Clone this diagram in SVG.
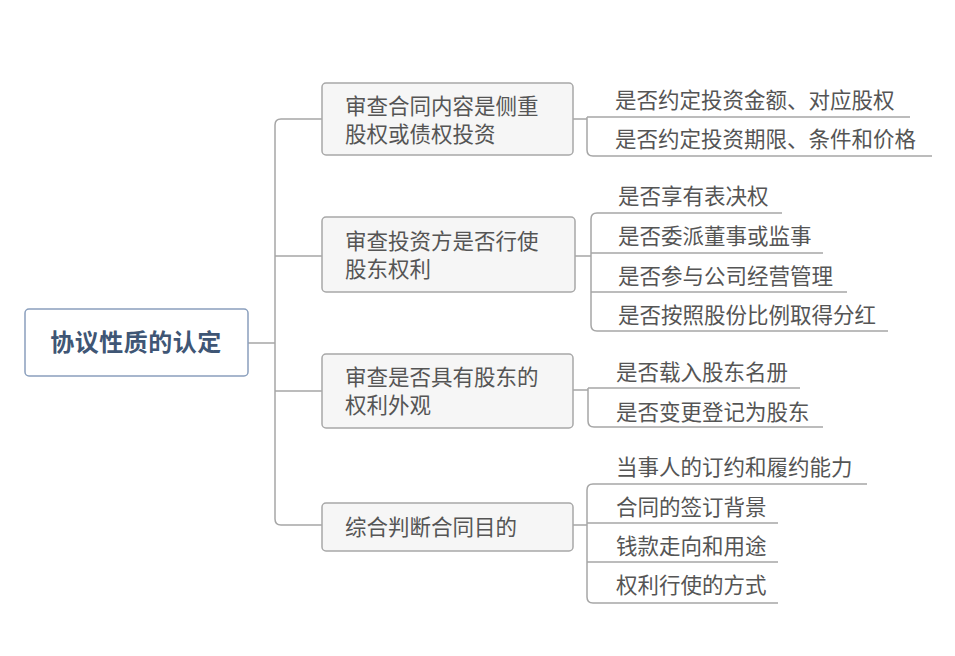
<svg xmlns="http://www.w3.org/2000/svg" width="955" height="656" viewBox="0 0 955 656">
<style>
.bg{fill:#ffffff}
.root{fill:#ffffff;stroke:#8a9fbd;stroke-width:1.5}
.rt{font-family:"Noto Sans CJK SC","Noto Sans",sans-serif;font-size:24px;font-weight:bold;fill:#3f5675;letter-spacing:0.5px}
.box{fill:#f6f6f6;stroke:#a8a8a8;stroke-width:1.5}
.t{font-family:"Noto Sans CJK SC","Noto Sans",sans-serif;font-size:21.5px;fill:#555555}
.ln{fill:none;stroke:#a6a6a6;stroke-width:1.5}
</style>
<rect class="bg" x="0" y="0" width="955" height="656"/>
<g id="connectors">
<path class="ln" d="M248,343 H275"/>
<path class="ln" d="M322,119 H281 Q275,119 275,125 V519 Q275,525 281,525 H322"/>
<path class="ln" d="M275,256 H322"/>
<path class="ln" d="M275,391 H322"/>
<path class="ln" d="M573,119 H587"/>
<path class="ln" d="M587,117 H910"/>
<path class="ln" d="M587,117 V150 Q587,156 593,156 H932"/>
<path class="ln" d="M575,256 H591"/>
<path class="ln" d="M782,213 H597 Q591,213 591,219 V325 Q591,331 597,331 H888"/>
<path class="ln" d="M591,253 H823"/>
<path class="ln" d="M591,292 H847"/>
<path class="ln" d="M573,390 H588"/>
<path class="ln" d="M588,388 H800"/>
<path class="ln" d="M588,388 V421 Q588,427 594,427 H823"/>
<path class="ln" d="M573,525 H587"/>
<path class="ln" d="M867,484 H593 Q587,484 587,490 V597 Q587,603 593,603 H778"/>
<path class="ln" d="M587,523 H778"/>
<path class="ln" d="M587,562 H778"/>
</g>
<g id="root">
<rect class="root" x="25" y="309" width="223" height="67" rx="4"/>
<text class="rt" x="136" y="351" text-anchor="middle">协议性质的认定</text>
</g>
<g id="b1">
<rect class="box" x="322" y="83" width="251" height="72" rx="4"/>
<text class="t" x="345" y="114">审查合同内容是侧重</text>
<text class="t" x="345" y="142">股权或债权投资</text>
</g>
<g id="b2">
<rect class="box" x="322" y="217" width="253" height="75" rx="4"/>
<text class="t" x="345" y="249">审查投资方是否行使</text>
<text class="t" x="345" y="277">股东权利</text>
</g>
<g id="b3">
<rect class="box" x="322" y="354" width="251" height="74" rx="4"/>
<text class="t" x="345" y="385">审查是否具有股东的</text>
<text class="t" x="345" y="413">权利外观</text>
</g>
<g id="b4">
<rect class="box" x="322" y="503" width="251" height="48" rx="4"/>
<text class="t" x="345" y="535">综合判断合同目的</text>
</g>
<g id="l1a"><text class="t" x="615" y="108">是否约定投资金额、对应股权</text></g>
<g id="l1b"><text class="t" x="615" y="147">是否约定投资期限、条件和价格</text></g>
<g id="l2a"><text class="t" x="618" y="204">是否享有表决权</text></g>
<g id="l2b"><text class="t" x="618" y="244">是否委派董事或监事</text></g>
<g id="l2c"><text class="t" x="618" y="284">是否参与公司经营管理</text></g>
<g id="l2d"><text class="t" x="618" y="323">是否按照股份比例取得分红</text></g>
<g id="l3a"><text class="t" x="616" y="380">是否载入股东名册</text></g>
<g id="l3b"><text class="t" x="616" y="420">是否变更登记为股东</text></g>
<g id="l4a"><text class="t" x="616" y="475">当事人的订约和履约能力</text></g>
<g id="l4b"><text class="t" x="616" y="515">合同的签订背景</text></g>
<g id="l4c"><text class="t" x="616" y="554">钱款走向和用途</text></g>
<g id="l4d"><text class="t" x="616" y="593">权利行使的方式</text></g>
</svg>
